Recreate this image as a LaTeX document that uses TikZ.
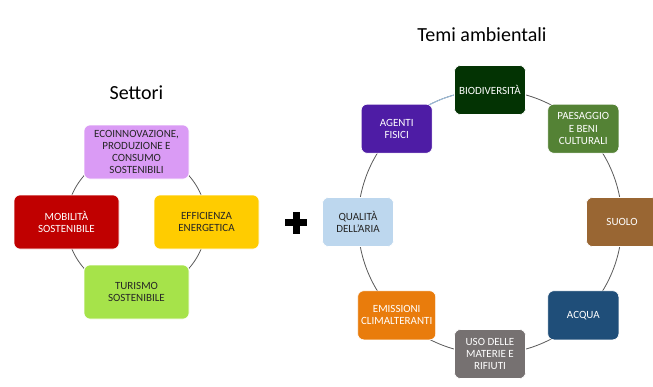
\documentclass[tikz,border=0pt]{standalone}
\usepackage{fontspec}
\setmainfont{Carlito}
\definecolor{cEco}{HTML}{DA9BF5}
\definecolor{cMob}{HTML}{C00000}
\definecolor{cEff}{HTML}{FFCC00}
\definecolor{cTur}{HTML}{A6E34A}
\definecolor{cBio}{HTML}{033303}
\definecolor{cPae}{HTML}{548235}
\definecolor{cAge}{HTML}{4E1CA5}
\definecolor{cQua}{HTML}{BDD7EE}
\definecolor{cSuo}{HTML}{996633}
\definecolor{cAcq}{HTML}{1F4E79}
\definecolor{cUso}{HTML}{767171}
\definecolor{cEmi}{HTML}{E97C0C}
\definecolor{cLine}{HTML}{595959}
\definecolor{cArcBlue}{HTML}{9DC3E6}
\definecolor{cText}{HTML}{262626}
\begin{document}
\begin{tikzpicture}[x=1pt,y=-1pt,
  sbox/.style={rectangle, rounded corners=6pt, draw=white, line width=0.6pt,
    align=center, inner sep=1pt, font=\fontsize{11}{12.3}\selectfont},
  lbox/.style={sbox, minimum width=105pt, minimum height=54pt},
  rbox/.style={sbox, minimum width=71pt, minimum height=49pt},
  ring/.style={draw=cLine, line width=0.8pt},
  title/.style={font=\fontsize{20}{24}\selectfont, text=black}]
\useasboundingbox (0,0) rectangle (653,386);

% ---- Settori ----
\node[title] (tset) at (136.5,93) {Settori};
\coordinate (cl) at (136.5,222);
\draw[ring] (cl) circle (70);
\node[lbox, fill=cEco, text=cText] (eco) at (136.5,152) {ECOINNOVAZIONE,\\PRODUZIONE E\\CONSUMO\\SOSTENIBILI};
\node[lbox, fill=cMob, text=white] (mob) at (66.5,222) {MOBILITÀ\\SOSTENIBILE};
\node[lbox, fill=cEff, text=cText] (eff) at (206.5,222) {EFFICIENZA\\ENERGETICA};
\node[lbox, fill=cTur, text=cText] (tur) at (136.5,292) {TURISMO\\SOSTENIBILE};

% ---- plus ----
\fill[black] (285,219) rectangle (307,226);
\fill[black] (292.5,211.5) rectangle (299.5,233.5);

% ---- Temi ambientali ----
\node[title] (tem) at (482,35) {Temi ambientali};
\coordinate (cr) at (490,222);
\draw[ring] (cr) circle (132);
\draw[draw=cArcBlue, line width=0.8pt] ([shift={(-90:132)}]cr) arc[start angle=-90, end angle=-135, radius=132];
\node[rbox, fill=cBio, text=white] (bio) at (490,90) {BIODIVERSITÀ};
\node[rbox, fill=cPae, text=white] (pae) at (583.3,128.7) {PAESAGGIO\\E BENI\\CULTURALI};
\node[rbox, fill=cSuo, text=white] (suo) at (622,222) {SUOLO};
\node[rbox, fill=cAcq, text=white] (acq) at (583.3,315.3) {ACQUA};
\node[rbox, fill=cUso, text=white] (uso) at (490,354) {USO DELLE\\MATERIE E\\RIFIUTI};
\node[rbox, fill=cEmi, text=white, minimum width=78pt] (emi) at (396.7,315.3) {EMISSIONI\\CLIMALTERANTI};
\node[rbox, fill=cQua, text=cText] (qua) at (358,222) {QUALITÀ\\DELL’ARIA};
\node[rbox, fill=cAge, text=white] (age) at (396.7,128.7) {AGENTI\\FISICI};
\end{tikzpicture}
\end{document}
